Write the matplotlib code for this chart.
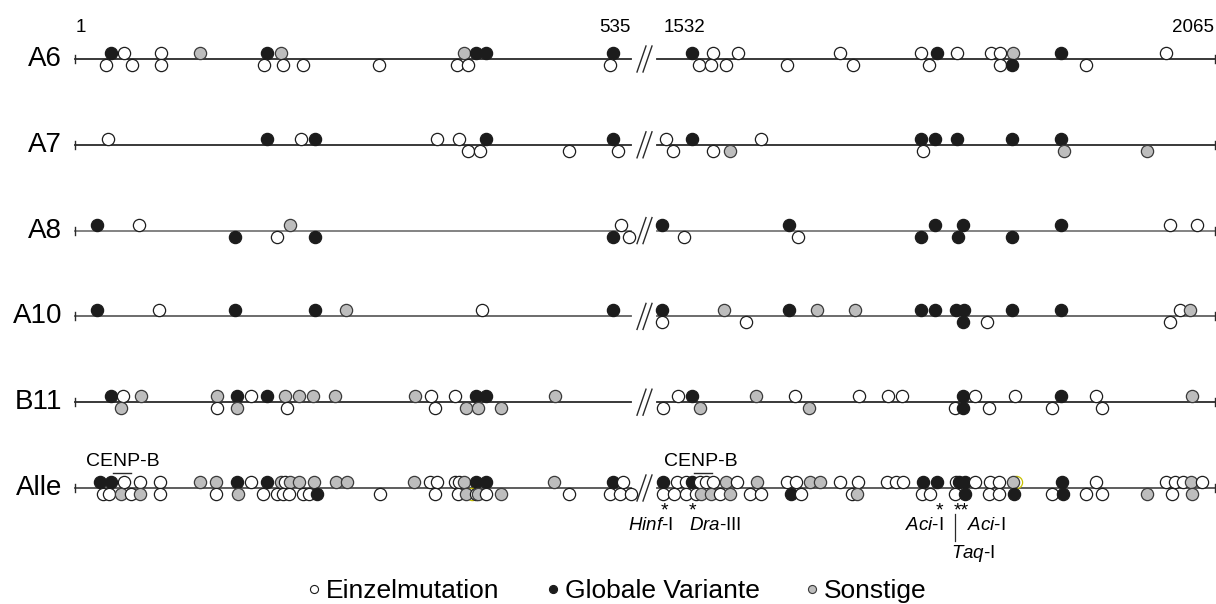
import matplotlib
matplotlib.use('Agg')
import matplotlib.pyplot as plt

plt.rcParams['font.family'] = ['Liberation Sans', 'DejaVu Sans']
plt.rcParams['mathtext.fontset'] = 'custom'
plt.rcParams['mathtext.rm'] = 'Liberation Sans'
plt.rcParams['mathtext.it'] = 'Liberation Sans:italic'

# Klone / Zeilen
rows = ['A6', 'A7', 'A8', 'A10', 'B11', 'Alle']

# Position (bp) und Typ: w = Einzelmutation, b = Globale Variante, g = Sonstige
a6_oben = [(36, 'b'), (49, 'w'), (85, 'w'), (124, 'g'), (190, 'b'), (204, 'g'), (386, 'g'), (398, 'b'),
           (408, 'b'), (534, 'b'), (1563, 'b'), (1584, 'w'), (1608, 'w'), (1710, 'w'), (1790, 'w'),
           (1806, 'b'), (1826, 'w'), (1859, 'w'), (1868, 'w'), (1881, 'g'), (1929, 'b'), (2033, 'w')]
a6_unten = [(31, 'w'), (57, 'w'), (85, 'w'), (187, 'w'), (206, 'w'), (226, 'w'), (301, 'w'), (379, 'w'),
            (390, 'w'), (531, 'w'), (1570, 'w'), (1582, 'w'), (1596, 'w'), (1657, 'w'), (1722, 'w'),
            (1798, 'w'), (1868, 'w'), (1880, 'b'), (1953, 'w')]

a7_oben = [(33, 'w'), (190, 'b'), (224, 'w'), (238, 'b'), (359, 'w'), (381, 'w'), (408, 'b'), (534, 'b'),
           (1537, 'w'), (1563, 'b'), (1631, 'w'), (1790, 'b'), (1804, 'b'), (1826, 'b'), (1880, 'b'), (1929, 'b')]
a7_unten = [(390, 'w'), (402, 'w'), (490, 'w'), (538, 'w'), (1544, 'w'), (1584, 'w'), (1600, 'g'),
            (1792, 'w'), (1932, 'g'), (2014, 'g')]

a8_oben = [(22, 'b'), (63, 'w'), (213, 'g'), (541, 'w'), (1533, 'b'), (1659, 'b'), (1804, 'b'), (1831, 'b'),
           (1929, 'b'), (2037, 'w'), (2064, 'w')]
a8_unten = [(159, 'b'), (200, 'w'), (238, 'b'), (534, 'b'), (549, 'w'), (1555, 'w'), (1668, 'w'),
            (1790, 'b'), (1827, 'b'), (1880, 'b')]

a10_oben = [(22, 'b'), (83, 'w'), (159, 'b'), (238, 'b'), (269, 'g'), (404, 'w'), (534, 'b'), (1533, 'b'),
            (1594, 'g'), (1659, 'b'), (1687, 'g'), (1724, 'g'), (1790, 'b'), (1804, 'b'), (1825, 'b'),
            (1832, 'b'), (1880, 'b'), (1929, 'b'), (2047, 'w'), (2057, 'g')]
a10_unten = [(1533, 'w'), (1616, 'w'), (1831, 'b'), (1855, 'w'), (2037, 'w')]

b11_oben = [(36, 'b'), (48, 'w'), (65, 'g'), (141, 'g'), (161, 'b'), (175, 'w'), (190, 'b'), (208, 'g'),
            (222, 'g'), (236, 'g'), (258, 'g'), (337, 'g'), (353, 'w'), (377, 'w'), (398, 'b'), (408, 'b'),
            (476, 'g'), (1549, 'w'), (1563, 'b'), (1626, 'g'), (1665, 'w'), (1728, 'w'), (1757, 'w'),
            (1771, 'w'), (1831, 'b'), (1843, 'w'), (1883, 'w'), (1929, 'b'), (1963, 'w'), (2059, 'g')]
b11_unten = [(46, 'g'), (141, 'w'), (161, 'g'), (210, 'w'), (357, 'w'), (388, 'g'), (400, 'g'), (422, 'g'),
             (1534, 'w'), (1571, 'g'), (1679, 'g'), (1824, 'w'), (1831, 'b'), (1857, 'w'), (1920, 'w'),
             (1969, 'w')]

alle_oben = [(25, 'b'), (36, 'b'), (49, 'w'), (64, 'w'), (84, 'w'), (124, 'g'), (140, 'g'), (161, 'b'),
             (175, 'w'), (190, 'b'), (204, 'g'), (208, 'w'), (213, 'g'), (222, 'g'), (237, 'g'), (259, 'g'),
             (270, 'g'), (336, 'g'), (352, 'w'), (359, 'w'), (377, 'w'), (381, 'w'), (386, 'g'), (398, 'b'),
             (408, 'b'), (475, 'g'), (534, 'b'), (543, 'w'),
             (1534, 'b'), (1548, 'w'), (1557, 'w'), (1563, 'b'), (1571, 'w'), (1577, 'w'), (1584, 'w'),
             (1596, 'g'), (1607, 'w'), (1627, 'g'), (1657, 'w'), (1666, 'w'), (1680, 'g'), (1690, 'g'),
             (1710, 'w'), (1727, 'w'), (1756, 'w'), (1765, 'w'), (1772, 'w'), (1792, 'b'), (1806, 'b'),
             (1825, 'w'), (1828, 'b'), (1833, 'b'), (1843, 'w'), (1858, 'w'), (1867, 'w'), (1884, 'y'),
             (1881, 'g'), (1930, 'b'), (1963, 'w'), (2033, 'w'), (2042, 'w'), (2050, 'w'), (2058, 'g'),
             (2068, 'w')]
alle_unten = [(28, 'w'), (34, 'w'), (46, 'g'), (56, 'w'), (64, 'g'), (84, 'w'), (140, 'w'), (162, 'g'),
              (186, 'w'), (200, 'w'), (206, 'w'), (212, 'w'), (226, 'w'), (232, 'w'), (240, 'b'), (302, 'w'),
              (357, 'w'), (380, 'w'), (394, 'y'), (388, 'g'), (398, 'w'), (400, 'g'), (408, 'w'), (422, 'g'),
              (490, 'w'), (531, 'w'), (540, 'w'), (551, 'w'),
              (1534, 'w'), (1545, 'w'), (1557, 'w'), (1567, 'w'), (1572, 'g'), (1582, 'g'), (1591, 'w'),
              (1600, 'g'), (1620, 'w'), (1631, 'w'), (1661, 'b'), (1671, 'w'), (1721, 'w'), (1726, 'g'),
              (1791, 'w'), (1799, 'w'), (1824, 'w'), (1833, 'b'), (1857, 'w'), (1867, 'w'), (1882, 'b'),
              (1920, 'w'), (1931, 'b'), (1953, 'w'), (1969, 'w'), (2014, 'g'), (2039, 'w'), (2059, 'g')]

oben = [a6_oben, a7_oben, a8_oben, a10_oben, b11_oben, alle_oben]
unten = [a6_unten, a7_unten, a8_unten, a10_unten, b11_unten, alle_unten]

# Achsenbeschriftung oben (bp)
top_labels = ['1', '535', '1532', '2065']
top_pos = [6, 535, 1555, 2060]

# Restriktionsschnittstellen
enzyme_labels = [r'$\mathit{Hinf}$-I', r'$\mathit{Dra}$-III', r'$\mathit{Aci}$-I', r'$\mathit{Aci}$-I', r'$\mathit{Taq}$-I']
enzyme_pos = [1522, 1560, 1812, 1835, 1820]
stern_labels = ['*', '*', '*', '**']
stern_pos = [1535, 1563, 1808, 1830]

legend_labels = ['Einzelmutation', 'Globale Variante', 'Sonstige']
legend_kinds = ['w', 'b', 'g']

face = {'w': 'white', 'b': '#1c1c1c', 'g': '#bdbdbd', 'y': 'white'}
edge = {'w': '#1c1c1c', 'b': '#1c1c1c', 'g': '#3a3a3a', 'y': '#c8c000'}
line_col = ['#2a2a2a', '#2a2a2a', '#7a7a7a', '#606060', '#2a2a2a', '#505050']

W, H = 1216, 604
s = 1.0084          # px pro bp
row_y = [59 + 85.8 * i for i in range(len(rows))]
off = 6.0
ms = 8.8

fig = plt.figure(figsize=(W / 100, H / 100), dpi=100)
bg = fig.add_axes([0, 0, 1, 1])
axL = fig.add_axes([0, 0, 1, 1])
axR = fig.add_axes([0, 0, 1, 1])
bg.set_xlim(0, W)
axL.set_xlim(1 - 76 / s, 1 + (W - 76) / s)
axR.set_xlim(1532 - 661 / s, 1532 + (W - 661) / s)
for ax in (bg, axL, axR):
    ax.set_ylim(H, 0)
    ax.axis('off')
    ax.patch.set_alpha(0)

for i, name in enumerate(rows):
    y = row_y[i]
    axL.plot([0, 551], [y, y], color=line_col[i], lw=1.3, zorder=1)
    axR.plot([1528, 2081], [y, y], color=line_col[i], lw=1.3, zorder=1)
    axL.plot([0, 0], [y - 4, y + 4], color='#2a2a2a', lw=1, zorder=1)
    axR.plot([2081, 2081], [y - 4, y + 4], color='#2a2a2a', lw=1, zorder=1, clip_on=False)
    # Bruchzeichen
    bg.plot([637, 646], [y + 13, y - 13], color='#2a2a2a', lw=1)
    bg.plot([643, 652], [y + 13, y - 13], color='#2a2a2a', lw=1)
    bg.text(62, y, name, fontsize=20, ha='right', va='center')

    for pts, dy in ((oben[i], -off), (unten[i], off)):
        pts = [p for p in pts if p[1] == 'y'] + [p for p in pts if p[1] != 'y']
        for pos, k in pts:
            ax = axL if pos < 1000 else axR
            ax.plot(pos, y + dy, marker='o', ms=ms, mfc=face[k], mec=edge[k], mew=0.9,
                    ls='none', zorder=3)

for lab, pos in zip(top_labels, top_pos):
    ax = axL if pos < 1000 else axR
    ax.text(pos, 28, lab, fontsize=13.5, ha='center', va='center')

# CENP-B Boxen
axL.text(47, 461, 'CENP-B', fontsize=14, ha='center', va='center')
axL.plot([38, 56], [472.5, 472.5], color='#2a2a2a', lw=1)
axR.text(1571, 461, 'CENP-B', fontsize=14, ha='center', va='center')
axR.plot([1565, 1583], [472.5, 472.5], color='#2a2a2a', lw=1)

for lab, pos in zip(stern_labels, stern_pos):
    axR.text(pos, 515, lab, fontsize=14, ha='center', va='baseline')
aligns = ['center', 'left', 'right', 'left', 'left']
ys = [526, 526, 526, 526, 554]
for lab, pos, ha, yy in zip(enzyme_labels, enzyme_pos, aligns, ys):
    axR.text(pos, yy, lab, fontsize=13.5, ha=ha, va='center')
axR.plot([1824, 1824], [514, 541], color='#2a2a2a', lw=0.9)

# Legende
leg_x = [314, 553, 812]
for lab, k, x in zip(legend_labels, legend_kinds, leg_x):
    bg.plot(x, 589, marker='o', ms=5.8, mfc=face[k], mec=edge[k], mew=0.8, ls='none')
    bg.text(x + 12, 591, lab, fontsize=19, ha='left', va='center')

fig.savefig('out.png', dpi=100)
